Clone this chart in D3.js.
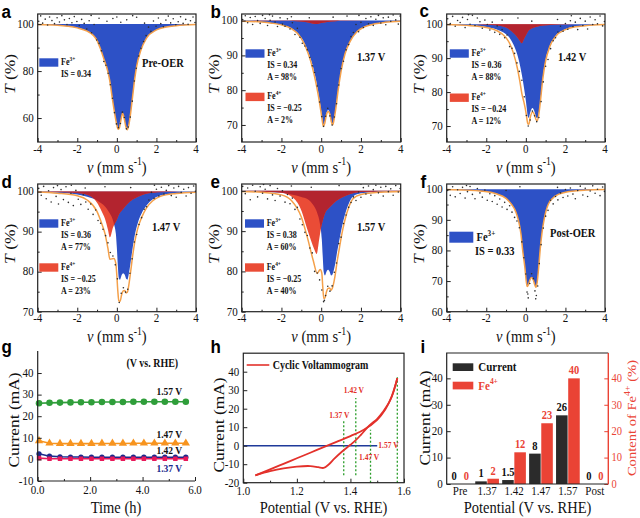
<!DOCTYPE html>
<html><head><meta charset="utf-8">
<script src="https://cdn.jsdelivr.net/npm/d3@7"></script>
<style>body{margin:0;background:#fff}svg{display:block}</style>
</head><body>
<script>
// ---------------- DATA ----------------
// Mossbauer spectra: velocity (mm/s) and transmission T(%)
const aV=[-4,-3,-2.5,-2,-1.5,-1.2,-1.0,-0.83,-0.65,-0.46,-0.35,-0.24,-0.1,0,0.06,0.12,0.2,0.29,0.38,0.46,0.53,0.6,0.68,0.78,0.9,1.0,1.2,1.5,2,2.5,3,4];
const aFe3=[99.8,99.5,99.1,98.4,97,95.3,93,89.5,85,80,75.5,69,61.5,57,55.2,55.6,58.8,62,59.5,56.2,55,56.8,61,68,76.5,82,88.5,94,97.5,98.8,99.3,99.8];

const bV=[-4,-3,-2.5,-2,-1.5,-1.2,-0.9,-0.65,-0.45,-0.3,-0.15,0,0.05,0.11,0.18,0.26,0.35,0.44,0.51,0.58,0.65,0.75,0.85,1.0,1.2,1.45,1.8,2.2,2.7,3.2,4];
const bFe3=[99.85,99.6,99.3,98.8,97.8,96.5,94.2,91,87.5,84,79.5,74,72,70.2,71,73.3,74.3,73.3,71.2,70.3,71.8,75.5,80,85.5,90.5,94,96.8,98.3,99.1,99.5,99.8];
const bFit=[99.85,99.58,99.27,98.77,97.7,96.35,93.85,90.45,86.7,83.05,78.65,73.3,71.35,69.6,70.5,72.85,73.9,73.0,70.9,70.05,71.6,75.3,79.85,85.4,90.45,93.97,96.78,98.28,99.08,99.5,99.8];
const bV4=[-4,-2,-1.2,-0.8,-0.5,-0.26,0,0.3,0.7,1.2,4];
const bFe4=[100,99.97,99.85,99.6,99.25,99.0,99.3,99.6,99.85,99.95,100];

const cV=[-4,-3,-2,-1.5,-1,-0.8,-0.64,-0.43,-0.3,-0.2,-0.1,0,0.05,0.1,0.15,0.22,0.34,0.45,0.52,0.58,0.65,0.75,0.85,1.0,1.2,1.5,2,2.5,3,4];
const cFe3=[99.9,99.7,99.2,98.5,97,95.8,94.2,91,88,85,81.5,77.5,75,72.8,72.4,74,75.3,74,72.6,72.3,73.8,78.5,84,89.5,93.5,96.5,98.5,99.3,99.6,99.9];
const cFit=[99.9,99.65,99.05,98.2,96,94.1,91.7,87.1,83.1,79.5,77.1,74.2,72.25,70.6,70.5,72.5,74.15,73.1,71.82,71.6,73.22,78.05,83.62,89.2,93.26,96.35,98.4,99.22,99.55,99.9];
const cV4=[-4,-3,-2,-1.5,-1.2,-1,-0.8,-0.64,-0.5,-0.35,-0.21,-0.1,0,0.1,0.2,0.35,0.5,0.7,1,1.5,2,3,4];
const cFe4=[100,99.95,99.85,99.7,99.4,99,98.3,97.5,96.7,95.5,94.4,95.6,96.7,97.8,98.4,98.9,99.2,99.5,99.7,99.85,99.9,99.95,100];

const dV=[-4,-3,-2,-1.5,-1,-0.77,-0.6,-0.45,-0.35,-0.15,-0.05,0,0.05,0.1,0.16,0.25,0.32,0.4,0.47,0.53,0.6,0.7,0.8,0.9,1.05,1.25,1.5,1.8,2.2,3,4];
const dFe3=[99.9,99.7,99.3,98.7,97.8,97.0,96.3,95.3,94.5,92,89.5,86,81.5,78.5,78,79.2,79.6,79.2,78.2,78,79.3,82.5,86,89,92,94.5,96.5,98,99,99.6,99.85];
const dFit=[99.9,99.6,98.95,97.9,95,92.1,89.5,85.8,83.1,83.3,82,79,75.1,72.7,72.6,74.4,75.2,75.3,74.7,74.85,76.5,80.1,84,87.25,90.7,93.5,95.95,97.65,98.8,99.53,99.85];
const dV4=[-4,-3,-2,-1.5,-1.2,-1,-0.77,-0.6,-0.45,-0.35,-0.2,0,0.12,0.3,0.5,0.8,1.1,1.6,2.5,4];
const dFe4=[100,99.9,99.65,99.2,98.4,97.2,95.1,93.2,90.5,88.6,91,93,94.4,95.5,96.7,98,98.8,99.6,99.9,100];

const eV=[-4,-3,-2,-1.5,-1,-0.7,-0.4,-0.2,-0.05,0.03,0.08,0.13,0.19,0.27,0.34,0.42,0.5,0.56,0.69,0.8,0.94,1.05,1.19,1.4,1.6,2,3,4];
const eFe3=[99.9,99.8,99.5,99.1,98.5,98,96.5,94.5,91.5,88,83.5,79.8,79,80,80.4,80,79,79.2,81.5,84.8,88.5,91.2,94,97,98.6,99.4,99.8,99.9];
const eFit=[99.85,99.65,99.0,97.6,93.5,88.5,82.7,79.5,80.5,79.6,76.1,73.3,73.4,75,75.8,75.9,75.3,75.8,78.7,82.4,86.5,89.55,92.7,96.1,98.05,99.1,99.68,99.85];
const eV4=[-4,-3,-2,-1.4,-0.98,-0.72,-0.5,-0.35,-0.23,-0.1,0,0.1,0.2,0.4,0.6,0.85,1.1,1.5,2,4];
const eFe4=[100,99.85,99.5,98.2,94.9,90.8,87.5,85.5,84.3,88,91,93,94.5,95.8,96.8,97.8,98.5,99.3,99.7,99.95];

const fV=[-4,-3,-2.3,-1.5,-1,-0.72,-0.5,-0.38,-0.25,-0.16,-0.05,0.02,0.07,0.13,0.2,0.29,0.38,0.45,0.51,0.57,0.65,0.72,0.82,0.92,1.13,1.5,2,2.57,3,4];
const fFe3=[99.9,99.7,99.4,98.5,97,95,92.5,90,85.5,80,74.5,70,68.2,68.8,70.3,71.2,70.3,68.8,68,69.5,74.5,80,86,90,95,97.8,99,99.5,99.7,99.9];

// measured data points [v, T]
const aDots=[[-3.95,101.2],[-3.85,103.5],[-3.75,100.4],[-3.62,102.1],[-3.5,99.6],[-3.4,103.0],[-3.28,101.5],[-3.15,100.2],[-3.02,102.7],[-2.9,100.9],[-2.78,103.6],[-2.65,101.8],[-2.52,99.8],[-2.4,102.4],[-2.27,100.6],[-2.15,103.2],[-2.02,101.1],[-1.9,99.4],[-1.78,102.0],[-1.65,100.3],[-1.52,97.9],[-1.4,101.4],[-1.28,96.3],[-1.15,99.8],[-1.02,93.2],[-0.9,91.8],[-0.78,88.6],[-0.66,84.1],[-0.55,82.5],[-0.44,79.1],[-0.33,74.2],[-0.22,68.4],[-0.12,62.3],[-0.02,57.5],[0.08,55.9],[0.18,57.7],[0.28,62.5],[0.38,60.2],[0.48,55.4],[0.58,56.2],[0.68,60.4],[0.78,67.2],[0.88,75.8],[0.98,81.2],[1.1,86.4],[1.22,89.7],[1.35,92.6],[1.48,95.1],[1.6,98.7],[1.72,96.9],[1.85,101.3],[1.98,99.1],[2.1,102.6],[2.22,100.2],[2.35,98.9],[2.48,101.7],[2.6,103.4],[2.72,100.5],[2.85,102.3],[2.98,99.7],[3.1,101.0],[3.22,103.1],[3.35,100.3],[3.48,102.0],[3.6,99.9],[3.72,101.4],[3.85,103.0],[3.95,100.7],[-0.9,102.5],[-0.5,101.2],[0.0,103.0],[0.5,101.8],[1.0,102.9],[-1.3,103.7],[1.4,100.4],[0.2,100.8],[-0.2,102.4],[0.8,103.6]];
const bDots=[[-3.95,100.3],[-3.82,101.4],[-3.7,99.4],[-3.57,100.9],[-3.45,98.9],[-3.32,101.2],[-3.2,100.0],[-3.07,99.2],[-2.95,101.5],[-2.82,100.6],[-2.7,98.6],[-2.57,100.1],[-2.45,101.3],[-2.32,99.6],[-2.2,98.3],[-2.07,100.8],[-1.95,99.0],[-1.82,98.4],[-1.7,100.5],[-1.57,97.6],[-1.45,99.4],[-1.32,96.0],[-1.2,97.8],[-1.07,95.2],[-0.95,93.5],[-0.82,92.7],[-0.7,91.6],[-0.57,89.4],[-0.45,87.0],[-0.33,85.1],[-0.2,81.2],[-0.08,76.6],[0.03,72.4],[0.12,69.6],[0.22,72.5],[0.33,74.8],[0.44,72.6],[0.55,70.0],[0.66,72.3],[0.77,76.1],[0.88,81.5],[1.0,86.2],[1.12,88.3],[1.25,91.6],[1.38,93.1],[1.5,95.4],[1.62,96.6],[1.75,98.9],[1.88,96.8],[2.0,99.5],[2.12,98.0],[2.25,100.6],[2.38,99.1],[2.5,101.1],[2.62,98.6],[2.75,100.4],[2.88,101.5],[3.0,99.3],[3.12,100.8],[3.25,98.8],[3.38,101.0],[3.5,99.8],[3.62,101.6],[3.75,100.2],[3.88,99.0],[3.97,101.3],[-1.5,101.1],[-0.6,100.8],[1.3,101.3],[0.6,101.0],[-2.6,101.7],[1.9,101.5]];
const cDots=[[-3.95,101.6],[-3.82,100.2],[-3.7,102.3],[-3.57,99.4],[-3.45,101.1],[-3.32,100.5],[-3.2,102.0],[-3.07,99.0],[-2.95,101.4],[-2.82,100.0],[-2.7,102.6],[-2.57,99.6],[-2.45,101.8],[-2.32,100.7],[-2.2,98.8],[-2.07,101.2],[-1.95,99.9],[-1.82,98.3],[-1.7,100.6],[-1.57,97.6],[-1.45,99.5],[-1.32,97.0],[-1.2,98.4],[-1.07,96.0],[-0.95,96.8],[-0.82,93.4],[-0.7,92.9],[-0.57,91.4],[-0.45,88.6],[-0.33,86.1],[-0.2,83.5],[-0.08,78.6],[0.03,73.1],[0.12,70.0],[0.22,71.8],[0.33,74.4],[0.44,73.0],[0.55,71.3],[0.66,72.5],[0.77,77.2],[0.88,83.0],[1.0,87.6],[1.12,89.6],[1.25,92.8],[1.38,95.1],[1.5,96.0],[1.62,97.7],[1.75,99.4],[1.88,97.9],[2.0,100.2],[2.12,98.5],[2.25,101.0],[2.38,99.3],[2.5,100.6],[2.62,98.4],[2.75,101.7],[2.88,99.6],[3.0,100.9],[3.12,98.6],[3.25,102.1],[3.38,99.9],[3.5,101.3],[3.62,100.1],[3.75,102.4],[3.88,99.5],[3.97,100.8],[-2.9,102.8],[-1.2,101.2],[0.3,100.9],[1.6,101.4],[-0.4,101.8],[2.3,102.5]];
const dDots=[[-3.95,100.8],[-3.82,99.1],[-3.7,101.3],[-3.57,98.2],[-3.45,100.2],[-3.32,97.4],[-3.2,101.0],[-3.07,98.8],[-2.95,96.9],[-2.82,100.5],[-2.7,98.0],[-2.57,101.2],[-2.45,97.3],[-2.32,99.6],[-2.2,96.5],[-2.07,100.3],[-1.95,98.1],[-1.82,96.8],[-1.7,99.2],[-1.57,97.4],[-1.45,95.6],[-1.32,96.9],[-1.2,94.3],[-1.07,95.4],[-0.95,92.8],[-0.82,92.1],[-0.7,90.6],[-0.57,89.0],[-0.45,87.2],[-0.33,84.8],[-0.2,83.9],[-0.08,81.7],[0.03,78.2],[0.12,72.3],[0.22,74.6],[0.33,76.0],[0.44,74.9],[0.55,75.6],[0.66,79.6],[0.77,83.2],[0.88,87.4],[1.0,89.3],[1.12,91.8],[1.25,93.5],[1.38,95.6],[1.5,96.2],[1.62,97.9],[1.75,99.8],[1.88,98.3],[2.0,100.6],[2.12,98.9],[2.25,101.1],[2.38,99.4],[2.5,100.3],[2.62,101.5],[2.75,99.0],[2.88,100.9],[3.0,98.6],[3.12,101.3],[3.25,99.8],[3.38,100.6],[3.5,98.9],[3.62,101.0],[3.75,99.6],[3.88,101.4],[3.97,100.1],[-3.0,101.5],[-1.6,100.9],[-0.6,101.2],[0.7,101.0],[1.9,101.6],[-2.3,101.6]];
const eDots=[[-3.95,101.1],[-3.82,99.3],[-3.7,100.7],[-3.57,97.8],[-3.45,101.4],[-3.32,99.9],[-3.2,98.5],[-3.07,101.0],[-2.95,99.4],[-2.82,100.4],[-2.7,98.0],[-2.57,101.3],[-2.45,99.0],[-2.32,97.6],[-2.2,100.6],[-2.07,98.7],[-1.95,100.0],[-1.82,97.2],[-1.7,99.1],[-1.57,96.8],[-1.45,98.2],[-1.32,95.4],[-1.2,95.9],[-1.07,93.0],[-0.95,91.6],[-0.82,89.7],[-0.7,88.9],[-0.57,85.8],[-0.45,84.6],[-0.33,80.0],[-0.2,79.6],[-0.08,77.9],[0.03,75.4],[0.12,72.5],[0.22,74.0],[0.33,76.3],[0.44,75.1],[0.55,76.4],[0.66,79.8],[0.77,82.1],[0.88,86.9],[1.0,88.5],[1.12,91.9],[1.25,94.0],[1.38,95.9],[1.5,97.1],[1.62,98.5],[1.75,97.6],[1.88,99.7],[2.0,98.4],[2.12,100.8],[2.25,99.2],[2.38,101.2],[2.5,98.9],[2.62,100.3],[2.75,101.4],[2.88,99.5],[3.0,100.9],[3.12,98.7],[3.25,101.1],[3.38,99.8],[3.5,100.5],[3.62,98.9],[3.75,101.3],[3.88,99.7],[3.97,100.6],[-2.9,101.6],[-1.5,101.2],[-0.5,100.9],[0.9,101.3],[2.0,101.7],[0.16,72.8]];
const fDots=[[-3.95,99.6],[-3.82,98.0],[-3.7,100.8],[-3.57,97.5],[-3.45,99.8],[-3.32,98.6],[-3.2,100.6],[-3.07,97.1],[-2.95,99.2],[-2.82,100.9],[-2.7,98.3],[-2.57,96.9],[-2.45,100.2],[-2.32,98.8],[-2.2,97.4],[-2.07,99.7],[-1.95,96.4],[-1.82,98.5],[-1.7,96.0],[-1.57,97.9],[-1.45,95.1],[-1.32,96.8],[-1.2,94.2],[-1.07,95.7],[-0.95,93.4],[-0.82,94.6],[-0.7,92.5],[-0.57,90.8],[-0.45,89.6],[-0.33,87.4],[-0.2,82.8],[-0.1,77.6],[0.0,72.3],[0.06,66.4],[0.12,64.5],[0.2,69.2],[0.29,72.4],[0.38,70.8],[0.46,66.8],[0.53,65.3],[0.6,68.4],[0.68,75.7],[0.77,81.9],[0.88,87.3],[1.0,91.2],[1.12,93.1],[1.25,96.4],[1.38,95.2],[1.5,97.6],[1.62,96.5],[1.75,98.8],[1.88,97.3],[2.0,99.9],[2.12,97.8],[2.25,100.4],[2.38,98.4],[2.5,96.9],[2.62,99.6],[2.75,101.0],[2.88,98.1],[3.0,100.3],[3.12,97.6],[3.25,99.4],[3.38,101.1],[3.5,98.7],[3.62,100.0],[3.75,97.9],[3.88,100.7],[3.97,99.3],[-3.0,101.2],[-1.0,99.6],[1.6,100.6],[0.1,65.8],[0.5,64.2],[-0.3,100.8]];

// chronoamperometry (g)
const gTime=[0.05,0.45,0.85,1.25,1.65,2.05,2.45,2.85,3.25,3.65,4.05,4.45,4.85,5.25,5.65];
const g157=[26.0,26.2,26.3,26.4,26.5,26.5,26.6,26.6,26.6,26.7,26.7,26.7,26.7,26.7,26.7];
const g147=[8.6,7.5,7.3,7.3,7.3,7.3,7.4,7.4,7.4,7.5,7.5,7.5,7.5,7.5,7.5];
const g142=[2.6,1.5,1.2,1.1,1.1,1.0,1.0,1.0,1.0,1.0,1.0,1.0,1.0,1.0,1.0];
const g137=[0.6,0.3,0.3,0.3,0.3,0.3,0.3,0.3,0.3,0.3,0.3,0.3,0.3,0.3,0.3];
const gLabels=['1.57 V','1.47 V','1.42 V','1.37 V'];

// cyclic voltammogram (h)
const hUpV=[1.045,1.1,1.15,1.2,1.25,1.3,1.35,1.4,1.45,1.5,1.53,1.555,1.575];
const hUpI=[-16,-12.8,-9.8,-6.8,-3.8,-0.8,2.2,5.2,8.6,14,19.5,27,36.5];
const hDnV=[1.575,1.55,1.52,1.5,1.47,1.44,1.42,1.4,1.37,1.34,1.32,1.3,1.28,1.25,1.2,1.15,1.1,1.045];
const hDnI=[36.5,25,18,14.5,10.8,6,3,0.5,-3,-7,-10,-12,-11.6,-11,-11.3,-12.3,-13.8,-16];
const hZeroV=[1.0,1.5];
const hMarkV=[1.375,1.42,1.475,1.575];
const hMarkTop=[13.5,25.8,8.6,37];
const hMarkBot=[-16,-16,-20,-20];
const hMarkLab=['1.37 V','1.42 V','1.47 V','1.57 V'];

// bars (i)
const iCats=['Pre','1.37','1.42','1.47','1.57','Post'];
const iCurrent=[0,1,1.5,11.5,26,0];
const iCurrentLab=['0','1','1.5','8','26','0'];
const iFe4=[0,2,12,23,40,0];

// ---------------- DRAWING ----------------
const SERIF='"Liberation Serif","Times New Roman",serif';
const SANS='"Liberation Sans",Arial,sans-serif';
const BLUE='#2d51c6', LRED='#ea4c36', DRED='#b3242f', ORANGE='#f4a04a', DOT='#2e2e2e', AX='#222';
const SY=1.2;

const svg=d3.select('body').append('svg').attr('width',640).attr('height',518);
const defs=svg.append('defs');
svg.append('rect').attr('width',640).attr('height',518).attr('fill','#fff');

function text(parent,x,y,segs,o={}){
  const size=o.size||11, sy=o.sy||SY, rot=o.rot||0;
  const t=parent.append('text')
    .attr('transform',`translate(${x},${y})`+(rot?` rotate(${rot}) scale(${sy},1)`:` scale(1,${sy})`))
    .attr('font-family',o.family||SERIF).attr('font-size',size)
    .attr('font-weight',o.weight||'normal').attr('fill',o.color||'#111')
    .attr('text-anchor',o.anchor||'start');
  if(!Array.isArray(segs)) segs=[segs];
  let shift=0;
  segs.forEach(s=>{
    if(typeof s!=='object') s={t:String(s)};
    const ts=t.append('tspan').text(s.t);
    const target=s.sup?-size*0.42:0;
    ts.attr('font-size',s.sup?size*0.68:size);
    if(target!==shift){ts.attr('dy',target-shift);shift=target;}
    if(s.it) ts.attr('font-style','italic');
  });
  return t;
}
const zip=(a,b)=>a.map((v,i)=>[v,b[i]]);

function tickLines(g,axis,transform){
  g.append('g').attr('transform',transform).call(axis)
   .call(s=>s.select('.domain').remove())
   .call(s=>s.selectAll('line').attr('stroke',AX).attr('stroke-width',1));
}

function panelLetter(ch,x,y){
  text(svg,x,y,ch,{size:17,weight:'bold',family:SANS,sy:1.12,color:'#000'});
}

// ---- Mossbauer panels ----
const mp=[
 {id:'a',x0:37.7,x1:196,y0:14,y1:142,yDom:[49.8,104.3],yT:[60,80,100],yM:[70,90],fe3:[aV,aFe3],fit:[aV,aFe3],dots:aDots},
 {id:'b',x0:241.7,x1:400.7,y0:14,y1:142,yDom:[65.1,101.9],yT:[70,80,90,100],yM:[75,85,95],fe3:[bV,bFe3],fe4:[bV4,bFe4],fit:[bV,bFit],dots:bDots},
 {id:'c',x0:446.7,x1:605,y0:14,y1:142,yDom:[65.3,103],yT:[70,80,90,100],yM:[75,85,95],fe3:[cV,cFe3],fe4:[cV4,cFe4],fit:[cV,cFit],dots:cDots},
 {id:'d',x0:37.7,x1:196,y0:184,y1:311.7,yDom:[70,101.9],yT:[70,80,90,100],yM:[75,85,95],fe3:[dV,dFe3],fe4:[dV4,dFe4],fit:[dV,dFit],dots:dDots},
 {id:'e',x0:241.7,x1:400.7,y0:184,y1:311.7,yDom:[70,101.7],yT:[70,80,90,100],yM:[75,85,95],fe3:[eV,eFe3],fe4:[eV4,eFe4],fit:[eV,eFit],dots:eDots},
 {id:'f',x0:446.7,x1:605,y0:184,y1:311.7,yDom:[60,101.7],yT:[60,70,80,90,100],yM:[65,75,85,95],fe3:[fV,fFe3],fit:[fV,fFe3],dots:fDots},
];
mp.forEach(p=>{
  const x=d3.scaleLinear().domain([-4,4]).range([p.x0,p.x1]);
  const y=d3.scaleLinear().domain(p.yDom).range([p.y1,p.y0]);
  const g=svg.append('g');
  const cid='clip-'+p.id;
  defs.append('clipPath').attr('id',cid).append('rect')
    .attr('x',p.x0).attr('y',p.y0).attr('width',p.x1-p.x0).attr('height',p.y1-p.y0);
  const pg=g.append('g').attr('clip-path',`url(#${cid})`);
  const area=d3.area().x(d=>x(d[0])).y0(y(100)).y1(d=>y(d[1])).curve(d3.curveMonotoneX);
  const line=d3.line().x(d=>x(d[0])).y(d=>y(d[1])).curve(d3.curveMonotoneX);
  const f3=zip(p.fe3[0],p.fe3[1]);
  pg.append('path').attr('d',area(f3)).attr('fill',BLUE);
  if(p.fe4){
    const f4=zip(p.fe4[0],p.fe4[1]);
    pg.append('path').attr('d',area(f4)).attr('fill',LRED);
    const oid='ov-'+p.id;
    defs.append('clipPath').attr('id',oid).append('path').attr('d',area(f3));
    pg.append('path').attr('d',area(f4)).attr('fill',DRED).attr('clip-path',`url(#${oid})`);
  }
  pg.append('path').attr('d',line(zip(p.fit[0],p.fit[1]))).attr('fill','none')
    .attr('stroke',ORANGE).attr('stroke-width',1.5);
  pg.selectAll('circle.pt').data(p.dots).join('circle').attr('class','pt')
    .attr('cx',d=>x(d[0])).attr('cy',d=>y(d[1])).attr('r',0.8).attr('fill',DOT);
  tickLines(g,d3.axisBottom(x).tickValues([-4,-2,0,2,4]).tickSize(-4).tickSizeOuter(0).tickFormat(''),`translate(0,${p.y1})`);
  tickLines(g,d3.axisBottom(x).tickValues([-3,-1,1,3]).tickSize(-2).tickSizeOuter(0).tickFormat(''),`translate(0,${p.y1})`);
  tickLines(g,d3.axisLeft(y).tickValues(p.yT).tickSize(-4).tickSizeOuter(0).tickFormat(''),`translate(${p.x0},0)`);
  tickLines(g,d3.axisLeft(y).tickValues(p.yM).tickSize(-2).tickSizeOuter(0).tickFormat(''),`translate(${p.x0},0)`);
  g.append('rect').attr('x',p.x0).attr('y',p.y0).attr('width',p.x1-p.x0).attr('height',p.y1-p.y0)
    .attr('fill','none').attr('stroke',AX).attr('stroke-width',1.2);
  [-4,-2,0,2,4].forEach(v=>text(g,x(v),p.y1+10.5,String(v),{size:11,anchor:'middle'}));
  p.yT.forEach(v=>text(g,p.x0-4,y(v)+3.8,String(v),{size:11,anchor:'end'}));
  const cx=(p.x0+p.x1)/2;
  text(g,cx,p.y1+30.5,[{t:'ν',it:true},' (mm s',{t:'-1',sup:true},')'],{size:14.5,anchor:'middle'});
  text(g,p.x0-22.5,(p.y0+p.y1)/2-4,[{t:'T',it:true},' (%)'],{size:14.5,anchor:'middle',rot:-90});
});

function feLeg(x,y,charge,size,color){
  text(svg,x,y,['Fe',{t:charge,sup:true}],{size,weight:'bold',color:color||'#111'});
}
function legBlock(x,yTop,color,charge,lines){
  svg.append('rect').attr('x',x).attr('y',yTop).attr('width',19).attr('height',8.4).attr('fill',color);
  feLeg(x+21.7,yTop+6.7,charge,8);
  lines.forEach((l,i)=>text(svg,x+21.7,yTop+18.7+i*11.7,l,{size:8,weight:'bold'}));
}
legBlock(39.3,58.3,BLUE,'3+',['IS = 0.34']);
text(svg,142,67,'Pre-OER',{size:10.5,weight:'bold'});
legBlock(245.5,49.3,BLUE,'3+',['IS = 0.34','A = 98%']);
legBlock(245.5,92.7,LRED,'4+',['IS = −0.25','A = 2%']);
text(svg,357,61,'1.37 V',{size:10.5,weight:'bold'});
legBlock(449.8,49.3,BLUE,'3+',['IS = 0.36','A = 88%']);
legBlock(449.8,93.5,LRED,'4+',['IS = −0.24','A = 12%']);
text(svg,558,61,'1.42 V',{size:10.5,weight:'bold'});
legBlock(39.3,219.3,BLUE,'3+',['IS = 0.36','A = 77%']);
legBlock(39.3,263.3,LRED,'4+',['IS = −0.25','A = 23%']);
text(svg,152,230.7,'1.47 V',{size:10.5,weight:'bold'});
legBlock(245,219.3,BLUE,'3+',['IS = 0.38','A = 60%']);
legBlock(245,263.3,LRED,'4+',['IS = −0.25','A = 40%']);
text(svg,357,230.7,'1.57 V',{size:10.5,weight:'bold'});
svg.append('rect').attr('x',449.3).attr('y',231.7).attr('width',24).attr('height',11).attr('fill',BLUE);
feLeg(476.5,241,'3+',10.5);
text(svg,475,255,'IS = 0.33',{size:10.5,weight:'bold'});
text(svg,550,236.7,'Post-OER',{size:10.5,weight:'bold'});

// ---- panel g ----
(function(){
  const x=d3.scaleLinear().domain([0,6]).range([37.7,195]);
  const y=d3.scaleLinear().domain([-10,50.2]).range([481,351]);
  const g=svg.append('g');
  const series=[
    {v:g157,c:'#2f9e3a',sym:d3.symbolCircle,s:34},
    {v:g147,c:'#f7941f',sym:d3.symbolTriangle,s:30},
    {v:g142,c:'#1b2a8c',sym:d3.symbolCircle,s:22},
    {v:g137,c:'#e8195a',sym:d3.symbolSquare,s:20}
  ];
  const line=d3.line().x(d=>x(d[0])).y(d=>y(d[1]));
  series.forEach(s=>{
    const pts=zip(gTime,s.v);
    g.append('path').attr('d',line(pts)).attr('fill','none').attr('stroke',s.c).attr('stroke-width',1.6);
    g.selectAll(null).data(pts).join('path')
      .attr('transform',d=>`translate(${x(d[0])},${y(d[1])})`)
      .attr('d',d3.symbol(s.sym,s.s)).attr('fill',s.c);
  });
  tickLines(g,d3.axisBottom(x).tickValues([0,2,4,6]).tickSize(-4).tickSizeOuter(0).tickFormat(''),'translate(0,481)');
  tickLines(g,d3.axisBottom(x).tickValues([1,3,5]).tickSize(-2).tickSizeOuter(0).tickFormat(''),'translate(0,481)');
  tickLines(g,d3.axisLeft(y).tickValues([-10,0,10,20,30,40]).tickSize(-4).tickSizeOuter(0).tickFormat(''),'translate(37.7,0)');
  g.append('line').attr('x1',37.7).attr('x2',37.7).attr('y1',351).attr('y2',481).attr('stroke',AX).attr('stroke-width',1.2);
  g.append('line').attr('x1',37.7).attr('x2',195).attr('y1',481).attr('y2',481).attr('stroke',AX).attr('stroke-width',1.2);
  [0,2,4,6].forEach(v=>text(g,x(v),494,v.toFixed(1),{size:11,anchor:'middle'}));
  [-10,0,10,20,30,40].forEach(v=>text(g,33.5,y(v)+3.8,String(v),{size:11,anchor:'end'}));
  text(g,116,513,'Time (h)',{size:14.5,anchor:'middle'});
  text(g,19,420,'Current (mA)',{size:14.5,anchor:'middle',rot:-90});
  text(g,126.5,366.5,'(V vs. RHE)',{size:10,weight:'bold'});
  const ly=[395,438,454.3,472];
  gLabels.forEach((l,i)=>text(g,156.5,ly[i],l,{size:9.5,weight:'bold',color:i===3?'#1b2a8c':'#111'}));
})();

// ---- panel h ----
(function(){
  const x=d3.scaleLinear().domain([1.0,1.6]).range([243.3,404]);
  const y=d3.scaleLinear().domain([-20,50]).range([482.7,353.2]);
  const g=svg.append('g');
  g.append('line').attr('x1',x(hZeroV[0])).attr('x2',x(hZeroV[1])).attr('y1',y(0)).attr('y2',y(0))
    .attr('stroke','#1f3a9a').attr('stroke-width',1.4);
  hMarkV.forEach((v,i)=>g.append('line').attr('x1',x(v)).attr('x2',x(v)).attr('y1',y(hMarkBot[i])).attr('y2',y(hMarkTop[i]))
    .attr('stroke','#2a9d2a').attr('stroke-width',1.3).attr('stroke-dasharray','2,2'));
  const line=d3.line().x(d=>x(d[0])).y(d=>y(d[1])).curve(d3.curveCatmullRom);
  g.append('path').attr('d',line(zip(hUpV,hUpI))).attr('fill','none').attr('stroke','#e3312b').attr('stroke-width',1.8);
  g.append('path').attr('d',line(zip(hDnV,hDnI))).attr('fill','none').attr('stroke','#e3312b').attr('stroke-width',1.8);
  tickLines(g,d3.axisBottom(x).tickValues([1.0,1.2,1.4,1.6]).tickSize(-4).tickSizeOuter(0).tickFormat(''),'translate(0,482.7)');
  tickLines(g,d3.axisBottom(x).tickValues([1.1,1.3,1.5]).tickSize(-2).tickSizeOuter(0).tickFormat(''),'translate(0,482.7)');
  tickLines(g,d3.axisLeft(y).tickValues([-20,-10,0,10,20,30,40]).tickSize(-4).tickSizeOuter(0).tickFormat(''),'translate(243.3,0)');
  g.append('rect').attr('x',243.3).attr('y',353.2).attr('width',404-243.3).attr('height',482.7-353.2)
    .attr('fill','none').attr('stroke',AX).attr('stroke-width',1.2);
  [1.0,1.2,1.4,1.6].forEach(v=>text(g,x(v),495,v.toFixed(1),{size:11,anchor:'middle'}));
  [-20,-10,0,10,20,30,40].forEach(v=>text(g,239.3,y(v)+3.8,String(v),{size:11,anchor:'end'}));
  text(g,323.6,513,'Potential (V vs. RHE)',{size:14.5,anchor:'middle'});
  text(g,224,425,'Current (mA)',{size:14.5,anchor:'middle',rot:-90});
  g.append('line').attr('x1',246.7).attr('x2',269.3).attr('y1',365).attr('y2',365).attr('stroke','#e3312b').attr('stroke-width',1.6);
  text(g,272.7,368.8,'Cyclic Voltammogram',{size:10,weight:'bold'});
  const lab=[{dx:-14.6},{dx:-12},{dx:-11.5},{dx:-19}];
  const labY=[418,393,460,447.5];
  hMarkLab.forEach((l,i)=>text(g,x(hMarkV[i])+lab[i].dx,labY[i],l,{size:7.5,weight:'bold',color:'#e3312b'}));
})();

// ---- panel i ----
(function(){
  const x=d3.scaleBand().domain(iCats).range([446.7,608.3]).paddingInner(0.12).paddingOuter(0.06);
  const xs=d3.scaleBand().domain(['cur','fe']).range([0,x.bandwidth()]).paddingInner(0.05);
  const y=d3.scaleLinear().domain([0,49.6]).range([484,353]);
  const RED='#ea4335', BLK='#2b2b2b';
  const g=svg.append('g');
  iCats.forEach((c,i)=>{
    const xc=x(c)+xs('cur'), xf=x(c)+xs('fe');
    g.append('rect').attr('x',xc).attr('y',y(iCurrent[i])).attr('width',xs.bandwidth()).attr('height',y(0)-y(iCurrent[i])).attr('fill',BLK);
    g.append('rect').attr('x',xf).attr('y',y(iFe4[i])).attr('width',xs.bandwidth()).attr('height',y(0)-y(iFe4[i])).attr('fill',RED);
    text(g,xc+xs.bandwidth()/2,y(iCurrent[i])-4,iCurrentLab[i],{size:10.5,weight:'bold',anchor:'middle'});
    text(g,xf+xs.bandwidth()/2,y(iFe4[i])-4,String(iFe4[i]),{size:10.5,weight:'bold',anchor:'middle',color:RED});
    text(g,x(c)+x.bandwidth()/2,495,c,{size:11,anchor:'middle'});
  });
  tickLines(g,d3.axisLeft(y).tickValues([0,10,20,30,40]).tickSize(-4).tickSizeOuter(0).tickFormat(''),'translate(446.7,0)');
  g.append('g').attr('transform','translate(608.3,0)')
    .call(d3.axisRight(y).tickValues([0,10,20,30,40]).tickSize(-4).tickSizeOuter(0).tickFormat(''))
    .call(s=>s.select('.domain').remove()).call(s=>s.selectAll('line').attr('stroke',RED));
  g.append('path').attr('d','M608.3,353H446.7V484H608.3').attr('fill','none').attr('stroke',AX).attr('stroke-width',1.2);
  g.append('line').attr('x1',608.3).attr('x2',608.3).attr('y1',353).attr('y2',484).attr('stroke',RED).attr('stroke-width',1.4);
  [0,10,20,30,40].forEach(v=>{
    text(g,442.7,y(v)+3.8,String(v),{size:11,anchor:'end'});
    text(g,611.5,y(v)+3.8,String(v),{size:10.5,color:RED});
  });
  text(g,527.5,513,'Potential (V vs. RHE)',{size:14.5,anchor:'middle'});
  text(g,430,418,'Current (mA)',{size:14.5,anchor:'middle',rot:-90});
  text(g,636,418,['Content of Fe',{t:'4+',sup:true},' (%)'],{size:13.5,anchor:'middle',rot:-90,sy:1.08,color:RED});
  g.append('rect').attr('x',452.7).attr('y',363.3).attr('width',20.6).attr('height',7.7).attr('fill',BLK);
  text(g,478.3,371,'Current',{size:11,weight:'bold'});
  g.append('rect').attr('x',452.7).attr('y',381.7).attr('width',20.6).attr('height',7.7).attr('fill',RED);
  text(g,478.3,389.5,['Fe',{t:'4+',sup:true}],{size:11,weight:'bold',color:RED});
})();

// panel letters
panelLetter('a',1.5,17.5);panelLetter('b',210.5,17.5);panelLetter('c',419.5,17);
panelLetter('d',1.5,187.5);panelLetter('e',210.5,187.5);panelLetter('f',420.5,187.5);
panelLetter('g',1.5,353);panelLetter('h',210.5,353);panelLetter('i',420.5,353);
</script>
</body></html>
